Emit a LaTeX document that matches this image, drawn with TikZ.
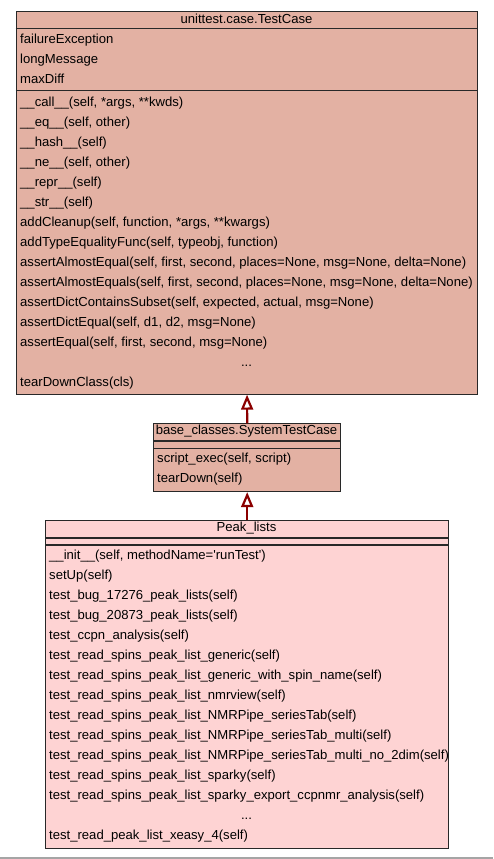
\documentclass[tikz,border=0pt]{standalone}
\usepackage{fontspec}
\setmainfont{Liberation Sans}
\usetikzlibrary{arrows.meta}
\definecolor{parentfill}{RGB}{227,177,163}
\definecolor{childfill}{RGB}{254,211,211}
\definecolor{edgered}{RGB}{139,0,0}
\definecolor{boxline}{RGB}{40,40,40}
\definecolor{framegray}{RGB}{165,165,165}
\begin{document}
\begin{tikzpicture}[x=1pt,y=-1pt,
  classbox/.style={draw=boxline, line width=1.1pt, anchor=north west, inner sep=0pt},
  sepline/.style={draw=boxline, line width=1.1pt},
  txt/.style={anchor=base west, inner sep=0pt, font=\fontsize{13.1}{15}\selectfont, text=black},
  ttl/.style={anchor=base, inner sep=0pt, font=\fontsize{13.1}{15}\selectfont, text=black},
  inherit/.style={draw=edgered, line width=2.2pt, -{Triangle[open, length=15pt, width=12pt, line width=2.2pt, fill=white]}}
]
\useasboundingbox (0,0) rectangle (493,859);

% ---------- unittest.case.TestCase ----------
\node[classbox, fill=parentfill, minimum width=461.6pt, minimum height=382.6pt] (tc) at (15.7,11) {};
\draw[sepline] (tc.west |- 0,28.5) -- (tc.east |- 0,28.5);
\draw[sepline] (tc.west |- 0,90.7) -- (tc.east |- 0,90.7);
\node[ttl] (tc-title) at (246.5,24) {unittest.case.TestCase};
\foreach \t [count=\i from 0] in {failureException, longMessage, maxDiff}
  \node[txt] (tc-a\i) at (20,{43.5+20*\i}) {\t};
\foreach \t [count=\i from 0] in {
  {\_\_call\_\_(self, *args, **kwds)},
  {\_\_eq\_\_(self, other)},
  {\_\_hash\_\_(self)},
  {\_\_ne\_\_(self, other)},
  {\_\_repr\_\_(self)},
  {\_\_str\_\_(self)},
  {addCleanup(self, function, *args, **kwargs)},
  {addTypeEqualityFunc(self, typeobj, function)},
  {assertAlmostEqual(self, first, second, places=None, msg=None, delta=None)},
  {assertAlmostEquals(self, first, second, places=None, msg=None, delta=None)},
  {assertDictContainsSubset(self, expected, actual, msg=None)},
  {assertDictEqual(self, d1, d2, msg=None)},
  {assertEqual(self, first, second, msg=None)}}
  \node[txt] (tc-m\i) at (20,{106.2+20*\i}) {\t};
\node[ttl] (tc-dots) at (246.5,366.2) {...};
\node[txt] (tc-last) at (20,386.2) {tearDownClass(cls)};

% ---------- base_classes.SystemTestCase ----------
\node[classbox, fill=parentfill, minimum width=186.7pt, minimum height=67.7pt] (stc) at (153.3,423.3) {};
\draw[sepline] (stc.west |- 0,441) -- (stc.east |- 0,441);
\draw[sepline] (stc.west |- 0,448.3) -- (stc.east |- 0,448.3);
\node[ttl] (stc-title) at (246.5,434.5) {base\_classes.SystemTestCase};
\node[txt] (stc-m0) at (157,462.8) {script\_exec(self, script)};
\node[txt] (stc-m1) at (157,482.8) {tearDown(self)};

% ---------- Peak_lists ----------
\node[classbox, fill=childfill, minimum width=403.3pt, minimum height=327.5pt] (pl) at (45,520) {};
\draw[sepline] (pl.west |- 0,538) -- (pl.east |- 0,538);
\draw[sepline] (pl.west |- 0,545) -- (pl.east |- 0,545);
\node[ttl] (pl-title) at (246.5,531.5) {Peak\_lists};
\foreach \t [count=\i from 0] in {
  {\_\_init\_\_(self, methodName=\textquotesingle runTest\textquotesingle)},
  {setUp(self)},
  {test\_bug\_17276\_peak\_lists(self)},
  {test\_bug\_20873\_peak\_lists(self)},
  {test\_ccpn\_analysis(self)},
  {test\_read\_spins\_peak\_list\_generic(self)},
  {test\_read\_spins\_peak\_list\_generic\_with\_spin\_name(self)},
  {test\_read\_spins\_peak\_list\_nmrview(self)},
  {test\_read\_spins\_peak\_list\_NMRPipe\_seriesTab(self)},
  {test\_read\_spins\_peak\_list\_NMRPipe\_seriesTab\_multi(self)},
  {test\_read\_spins\_peak\_list\_NMRPipe\_seriesTab\_multi\_no\_2dim(self)},
  {test\_read\_spins\_peak\_list\_sparky(self)},
  {test\_read\_spins\_peak\_list\_sparky\_export\_ccpnmr\_analysis(self)}}
  \node[txt] (pl-m\i) at (49,{559.7+20*\i}) {\t};
\node[ttl] (pl-dots) at (246.5,819.7) {...};
\node[txt] (pl-last) at (49,839.7) {test\_read\_peak\_list\_xeasy\_4(self)};

% ---------- inheritance ----------
\draw[inherit] (stc.north) -- (tc.south);
\draw[inherit] (pl.north) -- (stc.south);

% bottom frame line
\draw[framegray, line width=1.5pt] (0,858.2) -- (493,858.2);
\end{tikzpicture}
\end{document}
